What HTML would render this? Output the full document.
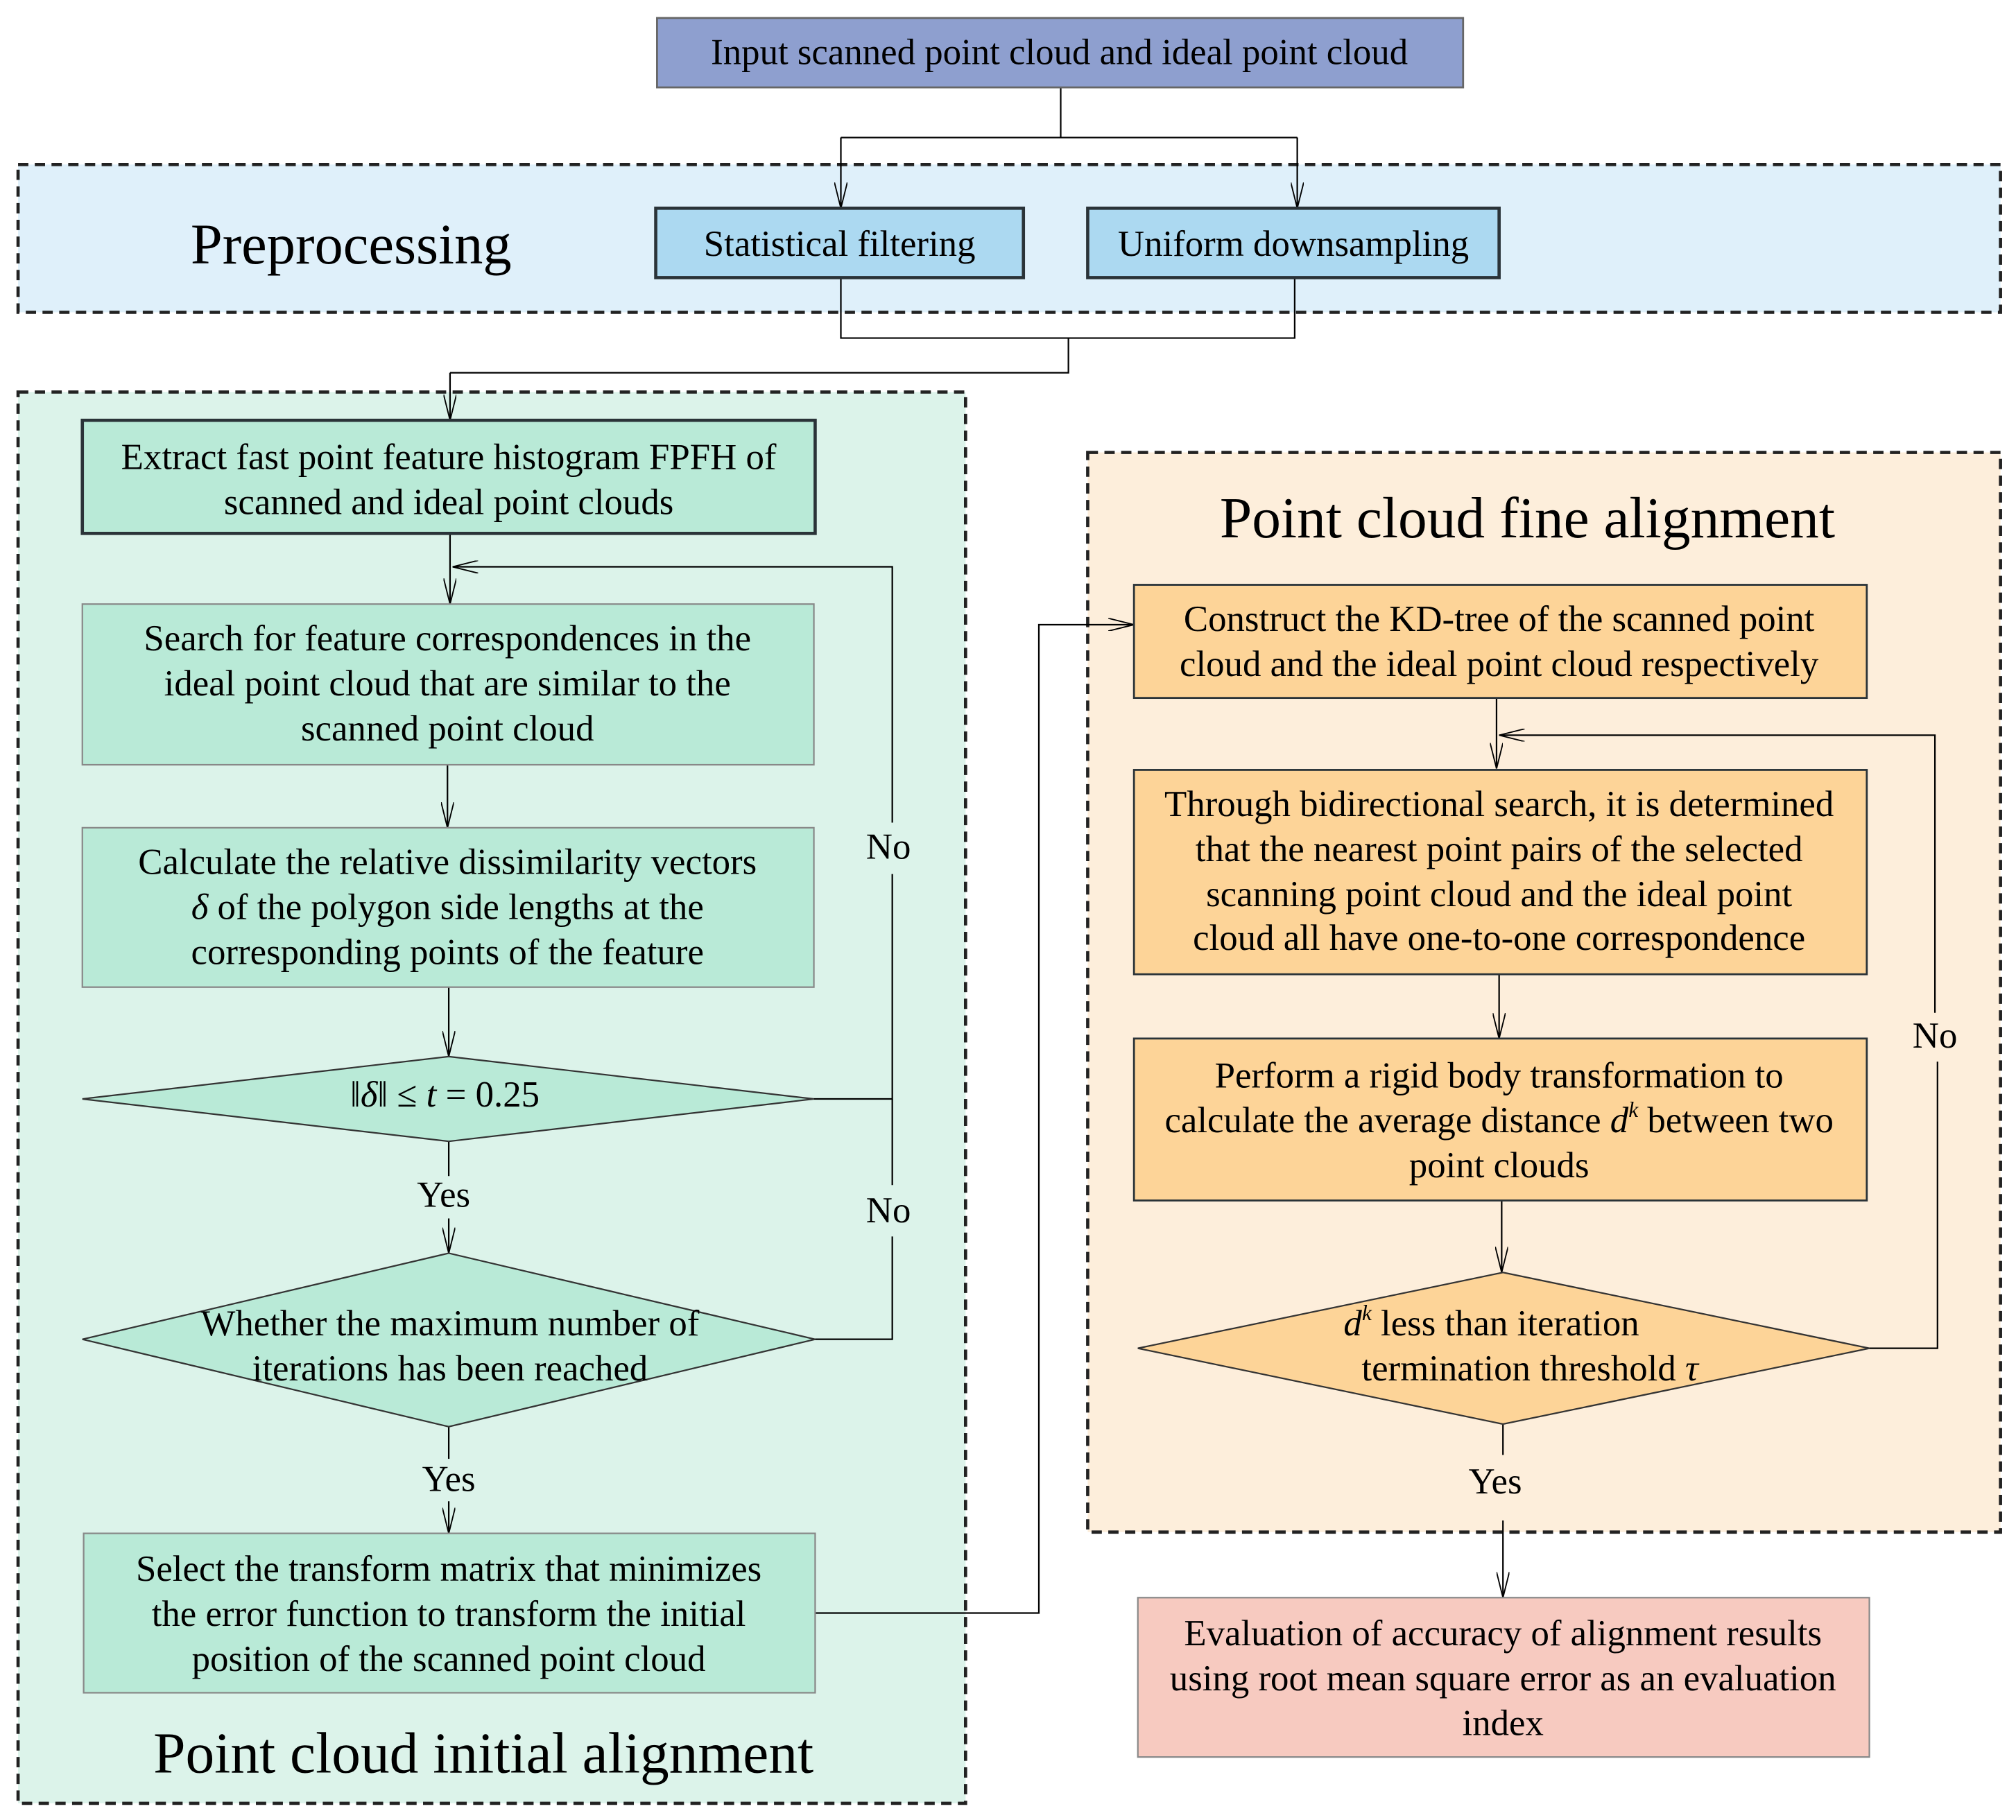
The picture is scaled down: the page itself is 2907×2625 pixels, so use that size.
<!DOCTYPE html>
<html><head><meta charset="utf-8"><style>html,body{margin:0;padding:0;background:#fff}svg{display:block}</style></head><body>
<svg width="2907" height="2625" viewBox="0 0 1568 1416" xmlns="http://www.w3.org/2000/svg" font-family="'Liberation Serif', serif" font-size="28.5" text-anchor="middle">
<defs>
<marker id="a" viewBox="0 0 10 20" refX="5" refY="20" markerWidth="10" markerHeight="20" markerUnits="userSpaceOnUse" orient="0"><path d="M0,0 L5,20 L10,0" fill="none" stroke="#000" stroke-width="1"/></marker>
<marker id="b" viewBox="0 0 20 10" refX="0" refY="5" markerWidth="20" markerHeight="10" markerUnits="userSpaceOnUse" orient="0"><path d="M20,0 L0,5 L20,10" fill="none" stroke="#000" stroke-width="1"/></marker>
<marker id="c" viewBox="0 0 20 10" refX="20" refY="5" markerWidth="20" markerHeight="10" markerUnits="userSpaceOnUse" orient="0"><path d="M0,0 L20,5 L0,10" fill="none" stroke="#000" stroke-width="1"/></marker>
</defs>
<rect x="14" y="128" width="1542" height="115" fill="#dff0fa" stroke="#222" stroke-width="2.5" stroke-dasharray="8,5"/>
<rect x="14" y="305" width="737" height="1098" fill="#dcf3ea" stroke="#222" stroke-width="2.5" stroke-dasharray="8,5"/>
<rect x="846" y="352" width="710" height="840" fill="#fdeedb" stroke="#222" stroke-width="2.5" stroke-dasharray="8,5"/>
<g fill="none" stroke="#000" stroke-width="1.2">
<path d="M825,68 V107 M654,107 H1009"/>
<path d="M654,107 V162" marker-end="url(#a)"/>
<path d="M1009,107 V162" marker-end="url(#a)"/>
<path d="M654,216 V263 H1007 V216 M831,263 V290 H350"/>
<path d="M350,290 V327" marker-end="url(#a)"/>
<path d="M350,415 V470" marker-end="url(#a)"/>
<path d="M694,640 V441 H352" marker-end="url(#b)"/>
<path d="M348,595 V644" marker-end="url(#a)"/>
<path d="M349,768 V822" marker-end="url(#a)"/>
<path d="M633,855 H694 V680"/>
<path d="M349,888 V915"/>
<path d="M349,948 V975" marker-end="url(#a)"/>
<path d="M634,1042 H694 V962"/>
<path d="M694,922 V855"/>
<path d="M349,1110 V1135"/>
<path d="M349,1168 V1193" marker-end="url(#a)"/>
<path d="M634,1255 H808 V486 H882" marker-end="url(#c)"/>
<path d="M1164,543 V598" marker-end="url(#a)"/>
<path d="M1505,788 V572 H1166" marker-end="url(#b)"/>
<path d="M1166,758 V808" marker-end="url(#a)"/>
<path d="M1168,934 V990" marker-end="url(#a)"/>
<path d="M1454,1049 H1507 V826"/>
<path d="M1169,1108 V1132"/>
<path d="M1169,1183 V1243" marker-end="url(#a)"/>
</g>
<rect x="511" y="14" width="627" height="54" fill="#8e9fcf" stroke="#666" stroke-width="1.5"/>
<rect x="510" y="162" width="286" height="54" fill="#acd9f1" stroke="#2a3338" stroke-width="2.5"/>
<rect x="846" y="162" width="320" height="54" fill="#acd9f1" stroke="#2a3338" stroke-width="2.5"/>
<rect x="64" y="327" width="570" height="88" fill="#b9ead7" stroke="#2a3338" stroke-width="2.5"/>
<rect x="64" y="470" width="569" height="125" fill="#b9ead7" stroke="#888" stroke-width="1.2"/>
<rect x="64" y="644" width="569" height="124" fill="#b9ead7" stroke="#888" stroke-width="1.2"/>
<polygon points="64,855 349,822 633,855 349,888" fill="#b9ead7" stroke="#333" stroke-width="1.2"/>
<polygon points="64,1042 349,975 634,1042 349,1110" fill="#b9ead7" stroke="#333" stroke-width="1.2"/>
<rect x="65" y="1193" width="569" height="124" fill="#b9ead7" stroke="#888" stroke-width="1.2"/>
<rect x="882" y="455" width="570" height="88" fill="#fdd498" stroke="#2a3338" stroke-width="1.5"/>
<rect x="882" y="599" width="570" height="159" fill="#fdd498" stroke="#2a3338" stroke-width="1.5"/>
<rect x="882" y="808" width="570" height="126" fill="#fdd498" stroke="#2a3338" stroke-width="1.5"/>
<polygon points="885,1049 1169,990 1454,1049 1169,1108" fill="#fdd498" stroke="#333" stroke-width="1.2"/>
<rect x="885" y="1243" width="569" height="124" fill="#f7cac0" stroke="#888" stroke-width="1.2"/>
<text x="824" y="50">Input scanned point cloud and ideal point cloud</text>
<text x="273" y="205" font-size="44.5">Preprocessing</text>
<text x="653" y="199">Statistical filtering</text>
<text x="1006" y="199">Uniform downsampling</text>
<text x="349" y="365">Extract fast point feature histogram FPFH of</text>
<text x="349" y="400">scanned and ideal point clouds</text>
<text x="348" y="506">Search for feature correspondences in the</text>
<text x="348" y="541">ideal point cloud that are similar to the</text>
<text x="348" y="576">scanned point cloud</text>
<text x="348" y="680">Calculate the relative dissimilarity vectors</text>
<text x="348" y="715"><tspan font-style="italic">δ</tspan> of the polygon side lengths at the</text>
<text x="348" y="750">corresponding points of the feature</text>
<text x="346" y="861">‖<tspan font-style="italic">δ</tspan>‖ ≤ <tspan font-style="italic">t</tspan> = 0.25</text>
<text x="345" y="939">Yes</text>
<text x="691" y="668">No</text>
<text x="691" y="951">No</text>
<text x="350" y="1039">Whether the maximum number of</text>
<text x="350" y="1074">iterations has been reached</text>
<text x="349" y="1160">Yes</text>
<text x="349" y="1230">Select the transform matrix that minimizes</text>
<text x="349" y="1265">the error function to transform the initial</text>
<text x="349" y="1300">position of the scanned point cloud</text>
<text x="376" y="1379" font-size="45">Point cloud initial alignment</text>
<text x="1188" y="418" font-size="45">Point cloud fine alignment</text>
<text x="1166" y="491">Construct the KD-tree of the scanned point</text>
<text x="1166" y="526">cloud and the ideal point cloud respectively</text>
<text x="1166" y="635">Through bidirectional search, it is determined</text>
<text x="1166" y="670">that the nearest point pairs of the selected</text>
<text x="1166" y="705">scanning point cloud and the ideal point</text>
<text x="1166" y="739">cloud all have one-to-one correspondence</text>
<text x="1166" y="846">Perform a rigid body transformation to</text>
<text x="1166" y="881">calculate the average distance <tspan font-style="italic">d</tspan><tspan font-size="17" dy="-12" font-style="italic">k</tspan><tspan dy="12"> between two</tspan></text>
<text x="1166" y="916">point clouds</text>
<text x="1160" y="1039"><tspan font-style="italic">d</tspan><tspan font-size="17" dy="-12" font-style="italic">k</tspan><tspan dy="12"> less than iteration</tspan></text>
<text x="1190" y="1074">termination threshold  <tspan font-style="italic">τ</tspan></text>
<text x="1505" y="815">No</text>
<text x="1163" y="1162">Yes</text>
<text x="1169" y="1280">Evaluation of accuracy of alignment results</text>
<text x="1169" y="1315">using root mean square error as an evaluation</text>
<text x="1169" y="1350">index</text>
</svg>
</body></html>
